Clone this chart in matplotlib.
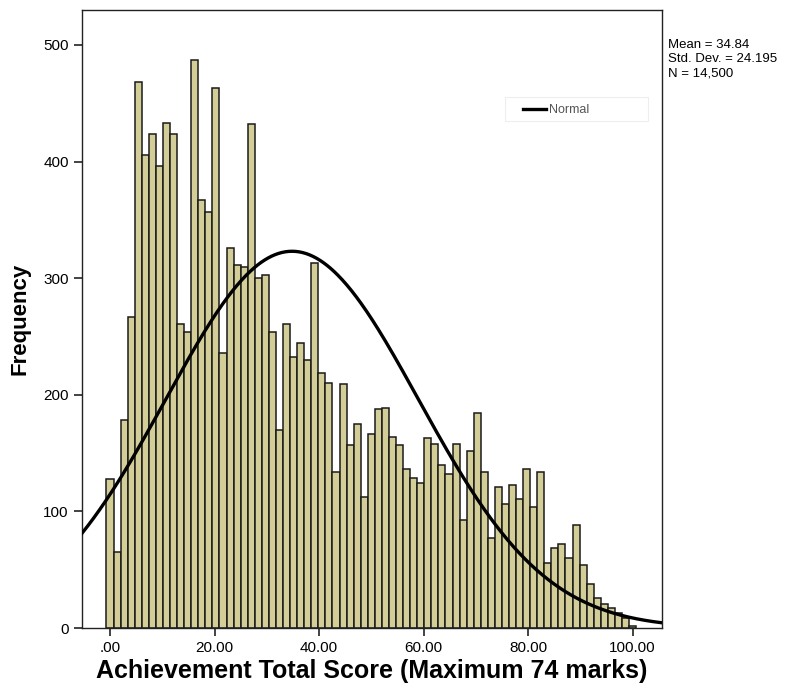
import numpy as np
import matplotlib.pyplot as plt
from matplotlib.patches import Rectangle

import matplotlib as mpl
mpl.rcParams.update({
    "font.family": "Liberation Sans",
})

# histogram counts, one bar per mark (0..74), shown as percent of 74
counts = [128, 65, 178, 267, 468, 406, 424, 396, 433, 424, 261, 254, 487,
          367, 357, 463, 236, 326, 311, 310, 432, 300, 303, 254, 170, 261,
          232, 244, 230, 313, 219, 210, 134, 209, 157, 175, 112, 166, 188,
          189, 164, 157, 136, 129, 124, 163, 158, 140, 132, 158, 93,
          152, 184, 134, 77, 121, 106, 123, 111, 136, 104, 134, 56,
          69, 72, 60, 88, 54, 38, 26, 21, 17, 13, 9, 2]
mean = 34.84
std = 24.195
n_total = 14500
xticks = [0, 20, 40, 60, 80, 100]
xticklabels = ['.00', '20.00', '40.00', '60.00', '80.00', '100.00']
yticks = [0, 100, 200, 300, 400, 500]
stats = ['Mean = 34.84', 'Std. Dev. = 24.195', 'N = 14,500']

bw = 100. / 74
centers = np.arange(len(counts)) * bw

fig = plt.figure(figsize=(8.01, 6.91), dpi=100)
ax = fig.add_axes([82 / 801, 63 / 691, 580 / 801, 618 / 691])

ax.bar(centers, counts, width=bw, color='#d3ce97', edgecolor='#1a1a1a',
       linewidth=1.1, zorder=2)

xlim = (-5.36, 105.63)
t = np.linspace(xlim[0], xlim[1], 500)
pdf = n_total * bw / (std * np.sqrt(2 * np.pi)) * np.exp(-0.5 * ((t - mean) / std) ** 2)
ax.plot(t, pdf, color='black', linewidth=2.4, label='Normal', zorder=3)

ax.set_xlim(*xlim)
ax.set_ylim(0, 530)
ax.set_xticks(xticks)
ax.set_xticklabels(xticklabels)
ax.set_yticks(yticks)
ax.tick_params(labelsize=11, length=6, width=1.2, color='#222222')
for s in ax.spines.values():
    s.set_color('#222222')
    s.set_linewidth(1.0)

ax.set_xlabel('Achievement Total Score (Maximum 74 marks)', fontsize=18,
              fontweight='bold', va='center')
ax.xaxis.set_label_coords(0.5, -43 / 618)
ax.set_ylabel('Frequency', fontsize=16, fontweight='bold', va='center')
ax.yaxis.set_label_coords(-62 / 580, 0.5)

# legend box drawn like the SPSS one
ax.add_patch(Rectangle((423 / 580, 507 / 618), 143 / 580, 24 / 618,
                       transform=ax.transAxes, facecolor='white',
                       edgecolor='#eeeeee', linewidth=0.8, zorder=4))
leg = ax.legend(loc='center left', bbox_to_anchor=(436 / 580, 518 / 618),
                fontsize=9, handlelength=1.8, handletextpad=0.3,
                frameon=False, borderaxespad=0)
leg.set_zorder(5)
for txt in leg.get_texts():
    txt.set_color('#555555')

for i, line in enumerate(stats):
    fig.text(668 / 801, 1 - (45 + 14 * i) / 691, line, fontsize=9.5,
             va='center', ha='left')

plt.savefig('out.png', dpi=100)
